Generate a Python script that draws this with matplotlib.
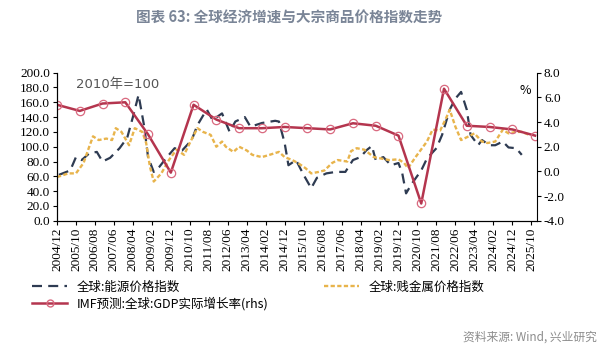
import matplotlib
matplotlib.use("Agg")
import matplotlib.pyplot as plt
from matplotlib.lines import Line2D

plt.rcParams['font.family'] = ['Noto Sans CJK SC', 'DejaVu Sans']

# 全球:能源价格指数 (2010=100)
energy_dates = ["2005-01", "2005-07", "2005-10", "2006-01", "2006-05", "2006-09", "2006-12",
                "2007-04", "2007-09", "2008-01", "2008-04", "2008-07", "2008-10", "2008-12",
                "2009-03", "2009-06", "2009-10", "2010-02", "2010-06", "2010-11", "2011-02",
                "2011-05", "2011-07", "2011-10", "2012-03", "2012-07", "2012-10", "2013-03",
                "2013-06", "2013-12", "2014-07", "2014-09", "2014-12", "2015-02", "2015-06",
                "2015-10", "2016-02", "2016-05", "2016-10", "2017-03", "2017-08", "2017-12",
                "2018-04", "2018-07", "2018-10", "2018-12", "2019-04", "2019-08", "2019-12",
                "2020-02", "2020-04", "2020-07", "2020-12", "2021-03", "2021-08", "2021-11",
                "2022-03", "2022-06", "2022-09", "2022-12", "2023-02", "2023-06", "2023-08",
                "2023-12", "2024-03", "2024-07", "2024-10", "2025-02", "2025-05"]
energy_vals = [62, 68, 86, 82, 91, 93, 80,
               85, 98, 112, 140, 170, 127, 86,
               66, 73, 86, 98, 95, 109, 129,
               142, 150, 136, 145, 120, 134, 140,
               127, 132, 135, 134, 105, 75, 82,
               62, 44, 58, 64, 66, 66, 82,
               86, 95, 101, 82, 86, 75, 78,
               64, 37, 50, 68, 84, 98, 116,
               150, 165, 174, 150, 116, 102, 109,
               102, 102, 107, 99, 98, 89]

# 全球:贱金属价格指数 (2010=100)
metal_dates = ["2004-12", "2005-06", "2005-10", "2006-02", "2006-05", "2006-07", "2006-10",
               "2007-02", "2007-05", "2007-07", "2007-10", "2008-02", "2008-05", "2008-09",
               "2008-11", "2009-01", "2009-03", "2009-07", "2009-11", "2010-03", "2010-07",
               "2010-10", "2011-02", "2011-05", "2011-09", "2011-12", "2012-03", "2012-05",
               "2012-09", "2012-12", "2013-04", "2013-07", "2013-12", "2014-04", "2014-09",
               "2014-12", "2015-04", "2015-07", "2015-11", "2016-02", "2016-06", "2016-09",
               "2017-01", "2017-04", "2017-09", "2017-11", "2018-02", "2018-06", "2018-11",
               "2019-03", "2019-07", "2019-12", "2020-03", "2020-05", "2020-09", "2021-03",
               "2021-06", "2021-10", "2022-01", "2022-03", "2022-06", "2022-09", "2023-01",
               "2023-04", "2023-08", "2023-11", "2024-03", "2024-07", "2024-10", "2025-02",
               "2025-05", "2025-09"]
metal_vals = [59, 64, 64, 78, 100, 114, 109,
              111, 109, 125, 120, 102, 125, 120,
              105, 73, 53, 64, 82, 96, 89,
              105, 125, 120, 116, 100, 107, 100,
              93, 100, 95, 89, 86, 89, 93,
              86, 82, 78, 71, 64, 66, 68,
              78, 82, 80, 94, 98, 96, 86,
              84, 82, 83, 78, 71, 86, 107,
              123, 122, 138, 150, 127, 109, 114,
              118, 107, 105, 107, 123, 118, 120,
              120, 116]

# IMF预测:全球:GDP实际增长率 (%), yearly
gdp_dates = ["%d-12" % y for y in range(2004, 2026)]
gdp_vals = [5.4, 4.9, 5.5, 5.6, 3.0, -0.1, 5.4, 4.2, 3.5, 3.5, 3.6,
            3.5, 3.4, 3.9, 3.7, 2.9, -2.6, 6.7, 3.7, 3.6, 3.4, 2.9]

tick_labels = ["2004/12", "2005/10", "2006/08", "2007/06", "2008/04", "2009/02", "2009/12",
               "2010/10", "2011/08", "2012/06", "2013/04", "2014/02", "2014/12", "2015/10",
               "2016/08", "2017/06", "2018/04", "2019/02", "2019/12", "2020/10", "2021/08",
               "2022/06", "2023/04", "2024/02", "2024/12", "2025/10"]


def month_index(s):
    s = s.replace("/", "-")
    y, m = s.split("-")
    return (int(y) - 2004) * 12 + (int(m) - 12)


navy = "#2e3b52"
gold = "#e8b44c"
red = "#b4354e"
serif = "Liberation Serif"

fig = plt.figure(figsize=(6.03, 3.51), dpi=100)
ax = fig.add_axes([0.0945, 0.371, 0.796, 0.422])
ax2 = ax.twinx()

ax.plot([month_index(d) for d in energy_dates], energy_vals, color=navy, lw=1.6,
        dashes=(4.5, 2.8))
ax.plot([month_index(d) for d in metal_dates], metal_vals, color=gold, lw=1.7,
        dashes=(1.8, 1.0))
ax2.plot([month_index(d) for d in gdp_dates], gdp_vals, color=red, lw=1.8,
         marker="o", ms=6, mfc="none", mec="#d9697f", mew=0.9)

ax.set_xlim(0, 253)
ax.set_ylim(0, 200)
ax2.set_ylim(-4, 8)
ax.set_yticks(range(0, 201, 20))
ax.set_yticklabels(["%.1f" % v for v in range(0, 201, 20)], fontfamily=serif, fontsize=9.5)
ax2.set_yticks(range(-4, 9, 2))
ax2.set_yticklabels(["%.1f" % v for v in range(-4, 9, 2)], fontfamily=serif, fontsize=9.5)
ax.set_xticks([month_index(t) for t in tick_labels])
ax.set_xticklabels(tick_labels, rotation=90, fontfamily=serif, fontsize=9.5)

for a in (ax, ax2):
    a.spines["top"].set_visible(False)
    a.tick_params(length=3, width=0.8, pad=2, colors="black")
ax.spines["right"].set_visible(False)

ax.text(0.04, 0.92, "2010年=100", transform=ax.transAxes, fontsize=9.5, color="#555555",
        family=["DejaVu Sans", "Noto Sans CJK SC"], va="center")
ax2.text(0.975, 0.88, "%", transform=ax2.transAxes, fontsize=9, ha="center", va="center")

fig.text(0.48, 0.95, "图表 63: 全球经济增速与大宗商品价格指数走势", ha="center", va="center",
         fontsize=10.5, fontweight="bold", color="#7a8597")
fig.text(0.99, 0.04, "资料来源: Wind, 兴业研究", ha="right", va="center", fontsize=8.5,
         color="#8c8c8c")

handles = [Line2D([], [], color=navy, lw=1.6, dashes=(4.5, 2.8)),
           Line2D([], [], color=red, lw=1.8, marker="o", ms=5, mfc="none", mec="#d9697f"),
           Line2D([], [], color=gold, lw=1.7, dashes=(1.8, 1.0))]
labels = ["全球:能源价格指数", "IMF预测:全球:GDP实际增长率(rhs)", "全球:贱金属价格指数"]
fig.legend(handles, labels, loc="upper left", bbox_to_anchor=(0.045, 0.215), ncol=2,
           frameon=False, fontsize=9, handlelength=2.8, handletextpad=0.8,
           columnspacing=4.4, labelspacing=0.25, borderaxespad=0)

fig.savefig("out.png", dpi=100)
